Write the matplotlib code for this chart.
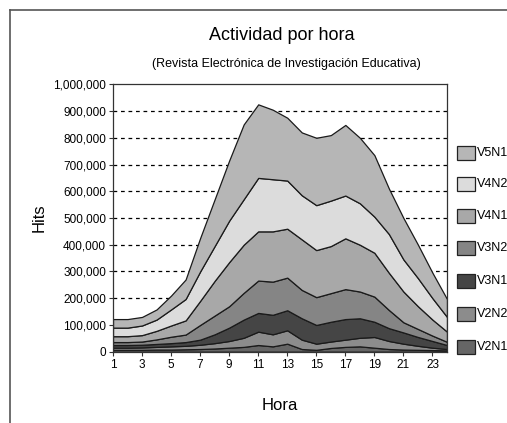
import matplotlib.pyplot as plt
from matplotlib.patches import Rectangle
from matplotlib.lines import Line2D
from matplotlib.ticker import FuncFormatter

plt.rcParams['font.family'] = ['Liberation Sans', 'DejaVu Sans']

hours = list(range(1, 25))

# hits per hour for each series (stacked bottom to top)
v2n1 = [7, 7, 7, 8, 8, 9, 10, 12, 15, 18, 25, 20, 30, 10, 7, 14, 18, 20, 15, 10, 8, 7, 6, 5]
v2n2 = [8, 8, 9, 10, 12, 13, 16, 20, 25, 34, 50, 45, 50, 35, 23, 24, 27, 32, 40, 30, 22, 15, 9, 5]
v3n1 = [10, 10, 10, 11, 12, 14, 19, 33, 50, 68, 70, 73, 75, 80, 70, 74, 77, 73, 57, 48, 42, 33, 25, 15]
v3n2 = [11, 11, 12, 17, 24, 28, 55, 70, 80, 100, 121, 124, 122, 106, 104, 107, 112, 100, 94, 68, 38, 30, 20, 12]
v4n1 = [22, 22, 24, 32, 42, 53, 90, 130, 165, 180, 184, 188, 183, 189, 176, 176, 190, 175, 164, 139, 115, 85, 60, 38]
v4n2 = [32, 32, 36, 42, 60, 80, 110, 130, 155, 170, 200, 195, 180, 165, 168, 170, 160, 155, 135, 145, 120, 105, 80, 55]
v5n1 = [32, 32, 32, 38, 52, 73, 125, 175, 225, 280, 275, 260, 235, 235, 252, 245, 264, 245, 230, 170, 155, 125, 95, 67]

series_names = ['V2N1', 'V2N2', 'V3N1', 'V3N2', 'V4N1', 'V4N2', 'V5N1']
series = [v2n1, v2n2, v3n1, v3n2, v4n1, v4n2, v5n1]
colors = ['#666666', '#8c8c8c', '#454545', '#858585', '#a8a8a8', '#dcdcdc', '#b6b6b6']

W, H = 507, 423
fig = plt.figure(figsize=(W / 100, H / 100), dpi=100)
ax = fig.add_axes([113 / W, 1 - 351.7 / H, (447 - 113) / W, (351.7 - 84.3) / H])

ax.stackplot(hours, *[[v * 1000 for v in s] for s in series], colors=colors,
             edgecolor='#1a1a1a', linewidth=0.9, zorder=2)

ax.set_xlim(1, 24)
ax.set_ylim(0, 1000000)
for g in range(100000, 1000000, 100000):
    ax.axhline(g, color='black', lw=0.9, ls=(0, (3, 3)), zorder=1)

ax.set_xticks(range(1, 25, 2))
ax.set_yticks(range(0, 1000001, 100000))
ax.yaxis.set_major_formatter(FuncFormatter(lambda v, p: f'{int(v):,}'))
ax.tick_params(labelsize=8.5, length=3, width=0.8, color='#333333', pad=2)
for sp in ax.spines.values():
    sp.set_color('#333333')
    sp.set_linewidth(0.9)

ax.set_ylabel('Hits', fontsize=12, labelpad=5)
ax.set_xlabel('Hora', fontsize=12, labelpad=20)

fig.text(282 / W, 1 - 35 / H, 'Actividad por hora', ha='center', va='center', fontsize=13)
fig.text(286 / W, 1 - 64 / H, '(Revista Electrónica de Investigación Educativa)',
         ha='center', va='center', fontsize=9)

# outer chart frame
fig.add_artist(Line2D([10 / W, 10 / W], [0, 1 - 10 / H], color='#555555', lw=1.2))
fig.add_artist(Line2D([10 / W, 1], [1 - 10 / H, 1 - 10 / H], color='#555555', lw=1.2))

# legend (top layer first)
leg_y = [153, 184, 216, 248, 281, 314, 347]
for y, name, c in zip(leg_y, reversed(series_names), reversed(colors)):
    fig.add_artist(Rectangle((457 / W, 1 - (y + 7) / H), 18 / W, 14 / H,
                             facecolor=c, edgecolor='#222222', lw=0.9))
    fig.text(477 / W, 1 - y / H, name, ha='left', va='center', fontsize=9)

fig.savefig('out.png', dpi=100)
